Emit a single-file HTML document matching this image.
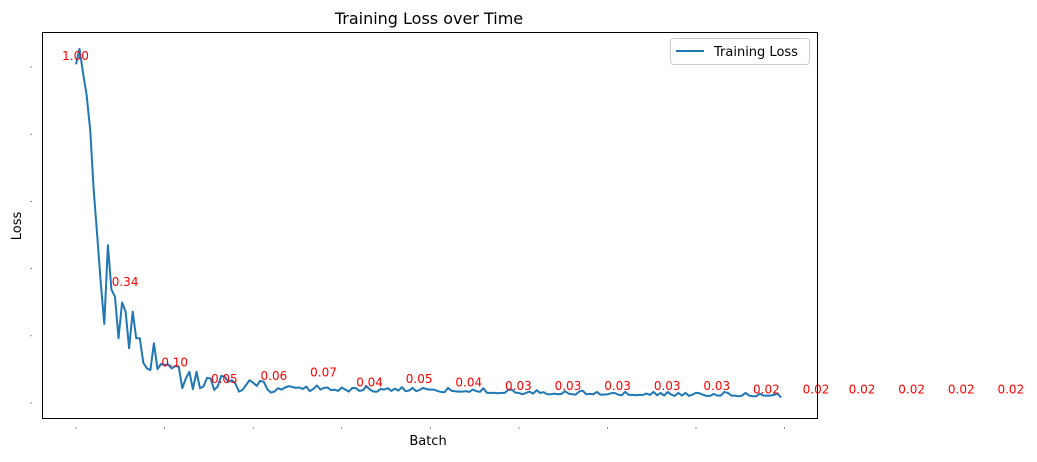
<!DOCTYPE html>
<html><head><meta charset="utf-8"><style>
body{margin:0;background:#fff;font-family:"Liberation Sans","DejaVu Sans",sans-serif;}
</style></head><body>
<svg id="chart" width="1037" height="457" xmlns="http://www.w3.org/2000/svg" font-family="DejaVu Sans, Liberation Sans, sans-serif">
<rect width="1037" height="457" fill="#fff"/>
<text x="429" y="24" font-size="16" text-anchor="middle" fill="#000">Training Loss over Time</text>
<text x="428" y="445" font-size="13" text-anchor="middle">Batch</text>
<text x="21" y="226" font-size="13" text-anchor="middle" transform="rotate(-90 21 226)">Loss</text>
<g id="marks"></g>
<rect x="42.5" y="32.5" width="775" height="386" fill="none" stroke="#000" stroke-width="1"/>
<g>
<rect x="670.5" y="38.5" width="139" height="26" rx="3" fill="#fff" stroke="#ccc"/>
<line x1="676" y1="51" x2="704" y2="51" stroke="#1f77b4" stroke-width="2"/>
<text x="714" y="56" font-size="13">Training Loss</text>
</g>
</svg>
<script>
const loss=[1.008,1.054,0.981,0.917,0.8125,0.634,0.495,0.356,0.235,0.470,0.338,0.316,0.193,0.299,0.272,0.163,0.272,0.193,0.193,0.120,0.103,0.098,0.178,0.101,0.116,0.113,0.115,0.103,0.110,0.108,0.044,0.073,0.093,0.041,0.093,0.044,0.049,0.075,0.073,0.039,0.049,0.081,0.078,0.063,0.068,0.058,0.034,0.039,0.054,0.068,0.060,0.051,0.066,0.063,0.041,0.031,0.034,0.044,
0.040,0.046,0.050,0.048,0.045,0.046,0.042,0.049,0.035,0.042,0.052,0.040,0.045,0.046,0.038,0.040,0.036,0.046,0.040,0.034,0.045,0.044,0.036,
0.038,0.050,0.040,0.034,0.034,0.042,0.040,0.044,0.036,0.043,0.037,0.047,0.035,0.037,0.045,0.035,0.039,0.045,0.041,0.040,
0.040,0.036,0.033,0.032,0.045,0.036,0.035,0.034,0.034,0.035,0.033,0.040,0.035,0.033,0.044,0.030,0.030,0.030,0.029,0.030,
0.030,0.039,0.040,0.031,0.030,0.026,0.030,0.034,0.028,0.038,0.030,0.032,0.026,0.026,0.028,0.026,0.027,0.035,0.028,0.026,
0.025,0.034,0.037,0.026,0.027,0.026,0.033,0.025,0.025,0.026,0.029,0.030,0.025,0.023,0.033,0.024,0.024,0.023,0.024,0.024,
0.028,0.024,0.033,0.023,0.030,0.022,0.033,0.025,0.021,0.030,0.022,0.030,0.021,0.025,0.030,0.029,0.024,0.021,0.021,0.027,
0.022,0.022,0.033,0.030,0.022,0.022,0.020,0.022,0.030,0.022,0.020,0.020,0.028,0.022,0.022,0.022,0.024,0.028,0.016];
const annotationIndex=[0,14,28,42,56,70,83,97,111,125,139,153,167,181,195,209,222,236,250,264];
const annotationLabels=["1.00","0.34","0.10","0.05","0.06","0.07","0.04","0.05","0.04","0.03","0.03","0.03","0.03","0.03","0.02","0.02","0.02","0.02","0.02","0.02"];
const annotationValues=[1.012,0.34,0.10,0.05,0.06,0.07,0.04,0.05,0.04,0.03,0.03,0.03,0.03,0.03,0.02,0.02,0.02,0.02,0.02,0.02];
const xTicks=[0,25,50,75,100,125,150,175,200];
const yTicks=[0,0.2,0.4,0.6,0.8,1.0];
const NS="http://www.w3.org/2000/svg";
const xs=i=>76+i*3.543;
const ys=v=>403-v*336;
const g=document.getElementById('marks');
function mk(t,a){const e=document.createElementNS(NS,t);for(const k in a)e.setAttribute(k,a[k]);g.appendChild(e);return e;}
xTicks.forEach(t=>{const e=mk('line',{x1:xs(t),x2:xs(t),y1:427,y2:429,stroke:'#777','stroke-width':0.8});

});
yTicks.forEach(t=>{const e=mk('line',{x1:30,x2:32,y1:ys(t),y2:ys(t),stroke:'#777','stroke-width':0.8});

});
const p=mk('polyline',{points:loss.map((v,i)=>xs(i).toFixed(1)+','+ys(v).toFixed(1)).join(' '),fill:'none',stroke:'#1f77b4','stroke-width':2,'stroke-linejoin':'round'});


annotationIndex.forEach((idx,k)=>{const e=mk('text',{x:xs(idx)-0.5,y:ys(annotationValues[k])-3,'font-size':12,'text-anchor':'middle',fill:'red'});
e.textContent=annotationLabels[k];

});
</script>
</body></html>
